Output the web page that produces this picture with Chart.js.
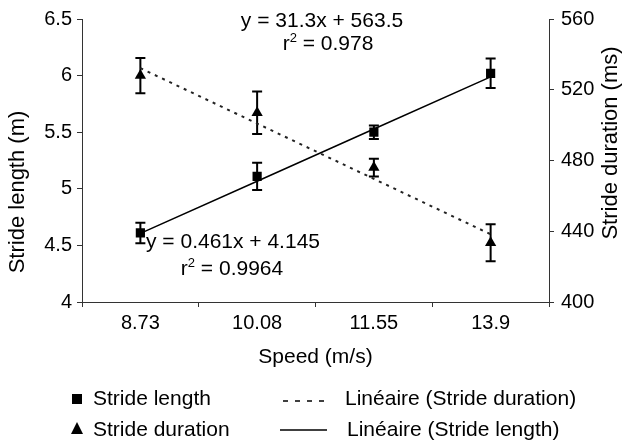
<!DOCTYPE html>
<html>
<head>
<meta charset="utf-8">
<script src="https://cdn.jsdelivr.net/npm/chart.js@4.4.1/dist/chart.umd.min.js"></script>
<style>
  html, body { margin: 0; padding: 0; background: #fff; }
</style>
</head>
<body>
<canvas id="strideChart" width="632" height="443"></canvas>
<script>
// data
const speeds = ['8.73', '10.08', '11.55', '13.9'];
const strideLength = [4.61, 5.11, 5.50, 6.02];
const strideLengthErr = [0.09, 0.12, 0.06, 0.13];
const strideDuration = [528, 507, 476, 433.5];
const strideDurationErr = [10, 12, 5, 10.5];
// excel linear trendlines (values at each category)
const lengthTrend = [4.606, 5.067, 5.528, 5.989];
const durationTrend = [532.2, 500.9, 469.6, 438.3];
const lengthTicks = [4, 4.5, 5, 5.5, 6, 6.5];
const durationTicks = [400, 440, 480, 520, 560];

const FONT = '"Liberation Sans", Arial, sans-serif';
const AXIS = '#333';

// error bars, drawn under the markers
const errorBars = {
  id: 'errorBars',
  beforeDatasetsDraw(chart) {
    const c = chart.ctx;
    c.save();
    c.strokeStyle = '#000';
    c.lineWidth = 2;
    chart.data.datasets.forEach((ds, i) => {
      if (!ds.errors) return;
      const scale = chart.scales[ds.yAxisID];
      chart.getDatasetMeta(i).data.forEach((pt, j) => {
        const top = scale.getPixelForValue(ds.data[j] + ds.errors[j]);
        const bot = scale.getPixelForValue(ds.data[j] - ds.errors[j]);
        c.beginPath();
        c.moveTo(pt.x, top); c.lineTo(pt.x, bot);
        c.moveTo(pt.x - 5, top); c.lineTo(pt.x + 5, top);
        c.moveTo(pt.x - 5, bot); c.lineTo(pt.x + 5, bot);
        c.stroke();
      });
    });
    c.restore();
  }
};

function drawR2(c, value, cx, base) {
  const main = '21px ' + FONT;
  const sup = '13px ' + FONT;
  const rest = ' = ' + value;
  c.font = main;
  const wr = c.measureText('r').width;
  const wrest = c.measureText(rest).width;
  c.font = sup;
  const ws = c.measureText('2').width;
  let x = cx - (wr + ws + wrest) / 2;
  c.font = main; c.fillText('r', x, base); x += wr;
  c.font = sup; c.fillText('2', x, base - 8); x += ws;
  c.font = main; c.fillText(rest, x, base);
}

// equations, rotated axis titles and the 2x2 legend
const extras = {
  id: 'extras',
  afterDraw(chart) {
    const c = chart.ctx;
    c.save();
    c.fillStyle = '#000';
    c.textBaseline = 'alphabetic';

    c.textAlign = 'center';
    c.font = '21px ' + FONT;
    c.fillText('y = 31.3x + 563.5', 322, 27);
    c.fillText('y = 0.461x + 4.145', 233, 248);
    c.textAlign = 'left';
    drawR2(c, '0.978', 328, 50);
    drawR2(c, '0.9964', 232, 275);

    // y titles (both read bottom to top)
    c.font = '22px ' + FONT;
    c.textAlign = 'center';
    c.textBaseline = 'middle';
    c.save(); c.translate(18, 192); c.rotate(-Math.PI / 2);
    c.fillText('Stride length (m)', 0, 0); c.restore();
    c.save(); c.translate(611, 143); c.rotate(-Math.PI / 2);
    c.fillText('Stride duration (ms)', 0, 0); c.restore();

    // legend
    const ds = chart.data.datasets;
    c.font = '21px ' + FONT;
    c.textAlign = 'left';
    c.textBaseline = 'alphabetic';
    c.fillRect(72, 394, 10, 10);
    c.fillText(ds[0].label, 93, 405);
    c.beginPath();
    c.moveTo(77, 422); c.lineTo(83, 434); c.lineTo(71, 434); c.closePath();
    c.fill();
    c.fillText(ds[1].label, 93, 436);

    c.strokeStyle = '#000';
    c.lineWidth = 1.5;
    c.setLineDash([5, 7]);
    c.beginPath(); c.moveTo(283, 401); c.lineTo(331, 401); c.stroke();
    c.setLineDash([]);
    c.beginPath(); c.moveTo(280, 430); c.lineTo(327, 430); c.stroke();
    c.fillText(ds[2].label, 345, 405);
    c.fillText(ds[3].label, 347, 436);
    c.restore();
  }
};

const ctx = document.getElementById('strideChart').getContext('2d');

new Chart(ctx, {
  type: 'line',
  data: {
    labels: speeds,
    datasets: [{
      label: 'Stride length',
      data: strideLength,
      errors: strideLengthErr,
      yAxisID: 'y',
      showLine: false,
      pointStyle: 'rect',
      pointRadius: 6.5,
      backgroundColor: '#000',
      borderColor: '#000',
      borderWidth: 0
    }, {
      label: 'Stride duration',
      data: strideDuration,
      errors: strideDurationErr,
      yAxisID: 'y2',
      showLine: false,
      pointStyle: 'triangle',
      pointRadius: 6.5,
      backgroundColor: '#000',
      borderColor: '#000',
      borderWidth: 0
    }, {
      label: 'Linéaire (Stride duration)',
      data: durationTrend,
      yAxisID: 'y2',
      borderColor: '#222',
      borderWidth: 2,
      borderDash: [3, 5],
      pointRadius: 0,
      tension: 0
    }, {
      label: 'Linéaire (Stride length)',
      data: lengthTrend,
      yAxisID: 'y',
      borderColor: '#000',
      borderWidth: 1.5,
      pointRadius: 0,
      tension: 0
    }]
  },
  options: {
    responsive: false,
    animation: false,
    layout: { padding: { top: 14, left: 0, right: 0, bottom: 0 } },
    plugins: {
      legend: { display: false },
      tooltip: { enabled: false }
    },
    scales: {
      x: {
        offset: true,
        grid: { offset: true, drawOnChartArea: false, tickLength: 5, color: AXIS },
        border: { color: AXIS, width: 1 },
        ticks: { color: '#000', font: { family: FONT, size: 20 }, padding: 4, maxRotation: 0 },
        title: {
          display: true,
          text: 'Speed (m/s)',
          color: '#000',
          font: { family: FONT, size: 21 },
          padding: { top: 0, bottom: 73 }
        },
        afterFit: (s) => { s.height = 141; }
      },
      y: {
        position: 'left',
        min: 4,
        max: 6.5,
        afterBuildTicks: (s) => { s.ticks = lengthTicks.map(v => ({ value: v })); },
        grid: { drawOnChartArea: false, tickLength: 5, color: AXIS },
        border: { color: AXIS, width: 1 },
        ticks: { color: '#000', font: { family: FONT, size: 20 }, padding: 5, callback: (v) => String(v) },
        afterFit: (s) => { s.width = 82; }
      },
      y2: {
        position: 'right',
        min: 400,
        max: 560,
        afterBuildTicks: (s) => { s.ticks = durationTicks.map(v => ({ value: v })); },
        grid: { drawOnChartArea: false, tickLength: 5, color: AXIS },
        border: { color: AXIS, width: 1 },
        ticks: { color: '#000', font: { family: FONT, size: 20 }, padding: 7, callback: (v) => String(v) },
        afterFit: (s) => { s.width = 83; }
      }
    }
  },
  plugins: [errorBars, extras]
});
</script>
</body>
</html>
